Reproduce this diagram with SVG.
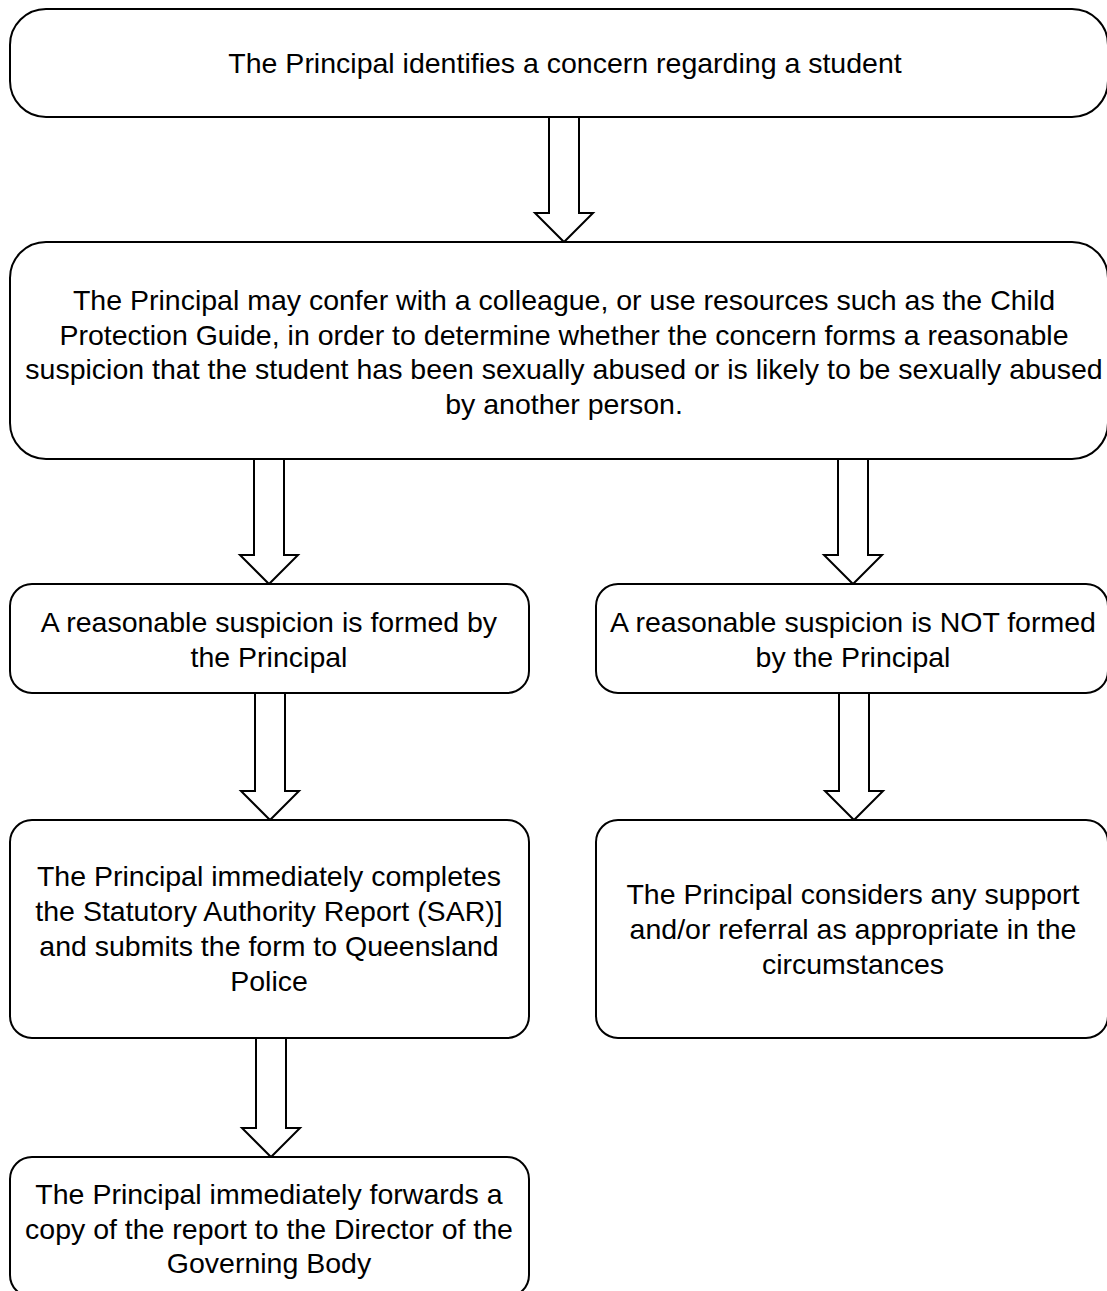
<svg xmlns="http://www.w3.org/2000/svg" width="1107" height="1291" viewBox="0 0 1107 1291">
<style>
.box{fill:#fff;stroke:#000;stroke-width:2}
.arr{fill:#fff;stroke:#000;stroke-width:2;stroke-linejoin:miter}
text{font-family:"Liberation Sans",Arial,sans-serif;font-size:28.5px;fill:#000;text-anchor:middle}
</style>
<rect width="1107" height="1291" fill="#fff"/>
<g id="connectors">
<polygon class="arr" points="549,117 579,117 579,213 593,213 564,242 535,213 549,213"/>
<polygon class="arr" points="254,459 284,459 284,555 298,555 269,584 240,555 254,555"/>
<polygon class="arr" points="838,459 868,459 868,555 882,555 853,584 824,555 838,555"/>
<polygon class="arr" points="255,693 285,693 285,791 299,791 270,820 241,791 255,791"/>
<polygon class="arr" points="839,693 869,693 869,791 883,791 854,820 825,791 839,791"/>
<polygon class="arr" points="256,1038 286,1038 286,1128 300,1128 271,1157 242,1128 256,1128"/>
</g>
<g id="n1">
<rect class="box" x="10" y="9" width="1098" height="108" rx="36" ry="36"/>
<text x="565" y="73">The Principal identifies a concern regarding a student</text>
</g>
<g id="n2">
<rect class="box" x="10" y="242" width="1098" height="217" rx="36" ry="36"/>
<text x="564" y="310">The Principal may confer with a colleague, or use resources such as the Child</text>
<text x="564" y="345">Protection Guide, in order to determine whether the concern forms a reasonable</text>
<text x="564" y="379">suspicion that the student has been sexually abused or is likely to be sexually abused</text>
<text x="564" y="414">by another person.</text>
</g>
<g id="n3">
<rect class="box" x="10" y="584" width="519" height="109" rx="22" ry="22"/>
<text x="269" y="632">A reasonable suspicion is formed by</text>
<text x="269" y="667">the Principal</text>
</g>
<g id="n4">
<rect class="box" x="596" y="584" width="512" height="109" rx="22" ry="22"/>
<text x="853" y="632">A reasonable suspicion is NOT formed</text>
<text x="853" y="667">by the Principal</text>
</g>
<g id="n5">
<rect class="box" x="10" y="820" width="519" height="218" rx="22" ry="22"/>
<text x="269" y="886">The Principal immediately completes</text>
<text x="269" y="921">the Statutory Authority Report (SAR)]</text>
<text x="269" y="956">and submits the form to Queensland</text>
<text x="269" y="991">Police</text>
</g>
<g id="n6">
<rect class="box" x="596" y="820" width="512" height="218" rx="22" ry="22"/>
<text x="853" y="904">The Principal considers any support</text>
<text x="853" y="939">and/or referral as appropriate in the</text>
<text x="853" y="974">circumstances</text>
</g>
<g id="n7">
<rect class="box" x="10" y="1157" width="519" height="140" rx="22" ry="22"/>
<text x="269" y="1204">The Principal immediately forwards a</text>
<text x="269" y="1239">copy of the report to the Director of the</text>
<text x="269" y="1273">Governing Body</text>
</g>
</svg>
